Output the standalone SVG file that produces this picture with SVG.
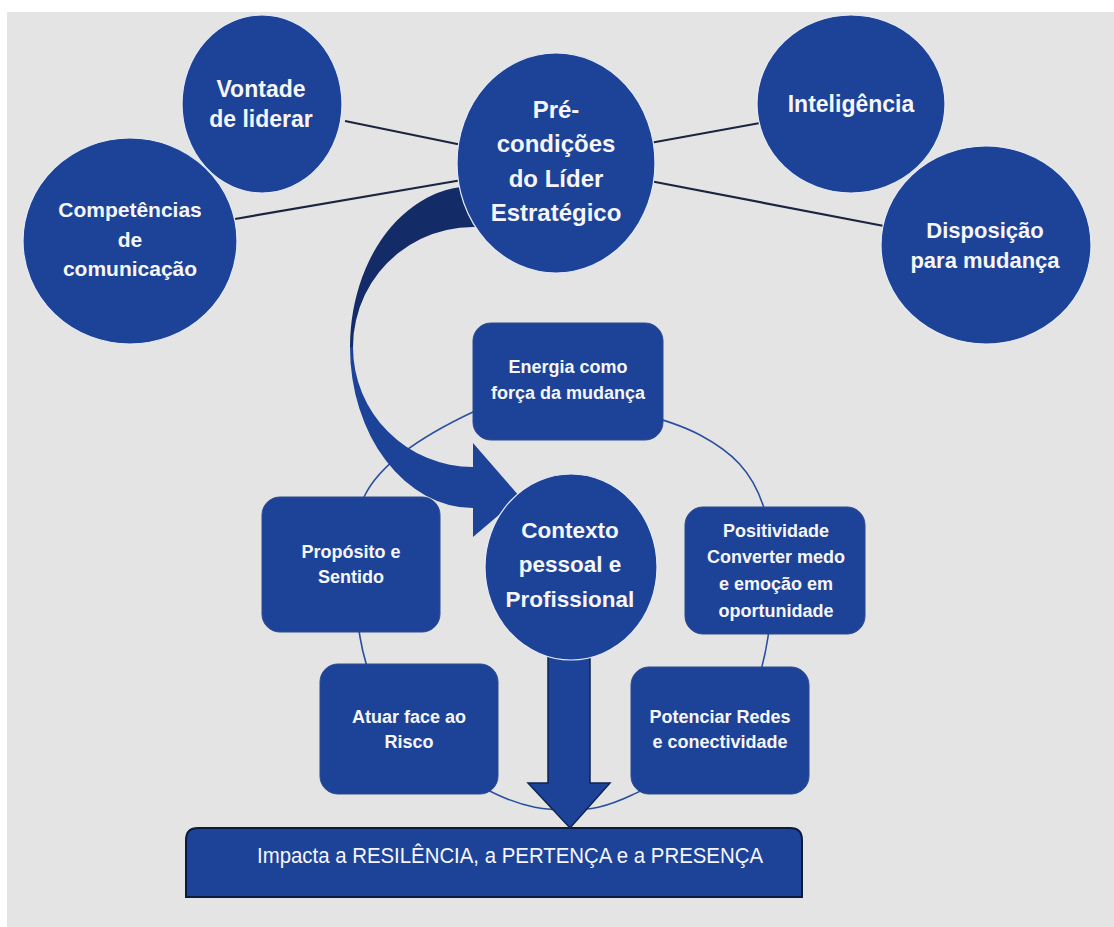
<svg xmlns="http://www.w3.org/2000/svg" width="1114" height="927" viewBox="0 0 1114 927">
  <defs>
    <style>
      .bg{fill:#e4e4e4}
      .node{fill:#1d4399;stroke:#e6ebf5;stroke-width:1.2}
      .box{fill:#1d4399;stroke:#2c4a8e;stroke-width:1}
      .bar{fill:#1d4399;stroke:#0c1a3e;stroke-width:2}
      .t{font-family:"Liberation Sans",Arial,sans-serif;font-weight:700;fill:#f6f6fa;text-anchor:middle}
      .tb{font-size:18px}
      .tr{font-family:"Liberation Sans",Arial,sans-serif;font-weight:400;fill:#f6f6fa;font-size:22px}
      .link{stroke:#1b2440;stroke-width:2.2;fill:none}
      .ring{fill:none;stroke:#2b4f9f;stroke-width:1.6}
      .arrow{fill:#1d4399}
      .arrow-back{fill:#132c68}
      .down{fill:#1d4399;stroke:#0f2350;stroke-width:1.5}
    </style>
  </defs>

  <!-- page background -->
  <rect x="0" y="0" width="1114" height="927" fill="#ffffff"/>
  <rect class="bg" x="7" y="12" width="1107" height="915"/>

  <!-- result bar at the bottom -->
  <g id="impacto">
    <path class="bar" d="M186,897 V840 Q186,828 198,828 H790 Q802,828 802,840 V897 Z"/>
    <text class="tr" x="257" y="863" textLength="506" lengthAdjust="spacingAndGlyphs">Impacta a RESILÊNCIA, a PERTENÇA e a PRESENÇA</text>
  </g>

  <!-- connectors: spokes, cycle ring, curved arrow, down arrow -->
  <g id="connectors">
    <line class="link" x1="345" y1="121" x2="462" y2="145"/>
    <line class="link" x1="235" y1="219" x2="462" y2="180"/>
    <line class="link" x1="650" y1="143" x2="760" y2="123"/>
    <line class="link" x1="650" y1="181" x2="884" y2="226"/>

    <path class="ring" d="M567,400 C604.8,403.8 667.3,417.5 700,435 C732.7,452.5 751.7,471.3 763,505 C774.3,538.7 773.8,598.7 768,637 C762.2,675.3 750.7,708.7 728,735 C705.3,761.3 658.7,782.5 632,795 C605.3,807.5 590.3,810 568,810 C545.7,810 525.2,807.5 498,795 C470.8,782.5 428,761.3 405,735 C382,708.7 366.7,677 360,637 C353.3,597 346.2,532.5 365,495 C383.8,457.5 439.3,427.8 473,412 C506.7,396.2 529.2,396.2 567,400 Z"/>

    <!-- curved arrow: dark underside, then front face with head -->
    <path class="arrow-back" d="M500,190 A123,161 0 0 0 350,347 L353,347 A120,120 0 0 1 500,230 Z"/>
    <path class="arrow" d="M350,347 A123,161 0 0 0 473,508 L473,537 L520,497 L473,443 L473,467 A120,120 0 0 1 353,347 Z"/>

    <path class="down" d="M548,640 L590,640 L590,783 L610,783 L570,828 L528,783 L548,783 Z"/>
  </g>

  <g id="vontade">
    <ellipse class="node" cx="262" cy="104" rx="80" ry="89"/>
    <text class="t" font-size="23" x="261" y="97">Vontade</text>
    <text class="t" font-size="23" x="261" y="127">de liderar</text>
  </g>

  <g id="competencias">
    <ellipse class="node" cx="130" cy="241" rx="107" ry="103"/>
    <text class="t" font-size="21" x="130" y="217">Competências</text>
    <text class="t" font-size="21" x="130" y="247">de</text>
    <text class="t" font-size="21" x="130" y="276">comunicação</text>
  </g>

  <g id="precondicoes">
    <ellipse class="node" cx="556" cy="163" rx="99" ry="110"/>
    <text class="t" font-size="24" x="556" y="118">Pré-</text>
    <text class="t" font-size="24" x="556" y="152">condições</text>
    <text class="t" font-size="24" x="556" y="187">do Líder</text>
    <text class="t" font-size="24" x="556" y="221">Estratégico</text>
  </g>

  <g id="inteligencia">
    <ellipse class="node" cx="851" cy="104" rx="94" ry="89"/>
    <text class="t" font-size="23" x="851" y="112">Inteligência</text>
  </g>

  <g id="disposicao">
    <ellipse class="node" cx="986" cy="245" rx="105" ry="99"/>
    <text class="t" font-size="22" x="985" y="238">Disposição</text>
    <text class="t" font-size="22" x="985" y="268">para mudança</text>
  </g>

  <g id="energia">
    <rect class="box" x="473" y="323" width="190" height="117" rx="18"/>
    <text class="t tb" x="568" y="373">Energia como</text>
    <text class="t tb" x="568" y="399">força da mudança</text>
  </g>

  <g id="proposito">
    <rect class="box" x="262" y="497" width="178" height="135" rx="18"/>
    <text class="t tb" x="351" y="558">Propósito e</text>
    <text class="t tb" x="351" y="583">Sentido</text>
  </g>

  <g id="positividade">
    <rect class="box" x="685" y="507" width="180" height="127" rx="18"/>
    <text class="t tb" x="776" y="537">Positividade</text>
    <text class="t tb" x="776" y="563">Converter medo</text>
    <text class="t tb" x="776" y="590">e emoção em</text>
    <text class="t tb" x="776" y="617">oportunidade</text>
  </g>

  <g id="potenciar">
    <rect class="box" x="631" y="667" width="178" height="127" rx="18"/>
    <text class="t tb" x="720" y="723">Potenciar Redes</text>
    <text class="t tb" x="720" y="748">e conectividade</text>
  </g>

  <g id="atuar">
    <rect class="box" x="320" y="664" width="178" height="130" rx="18"/>
    <text class="t tb" x="409" y="723">Atuar face ao</text>
    <text class="t tb" x="409" y="748">Risco</text>
  </g>

  <g id="contexto">
    <ellipse class="node" cx="571" cy="567" rx="86" ry="93" stroke="#16306e"/>
    <text class="t" font-size="22.5" x="570" y="538">Contexto</text>
    <text class="t" font-size="22.5" x="570" y="572">pessoal e</text>
    <text class="t" font-size="22.5" x="570" y="607">Profissional</text>
  </g>
</svg>
